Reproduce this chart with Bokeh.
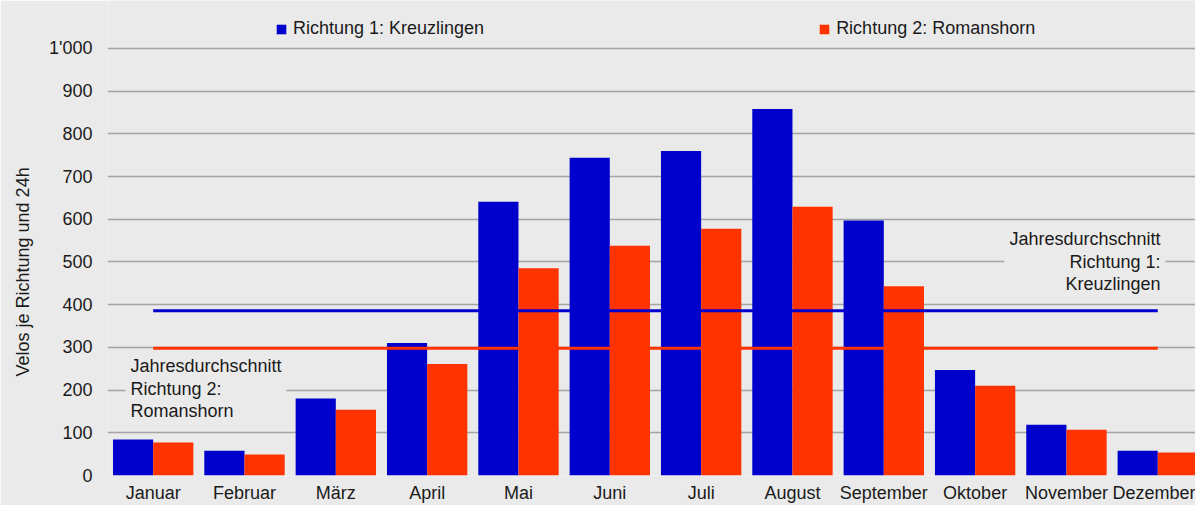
import numpy as np
from bokeh.plotting import figure
from bokeh.models import (ColumnDataSource, Legend, LegendItem, Label,
                          FixedTicker, Range1d, Title)
from bokeh.transform import dodge
from bokeh.embed import file_html
from bokeh.resources import INLINE

months = ["Januar", "Februar", "März", "April", "Mai", "Juni", "Juli",
          "August", "September", "Oktober", "November", "Dezember"]
richtung1 = [84, 58, 180, 310, 641, 744, 760, 858, 597, 247, 119, 58]
richtung2 = [77, 49, 154, 261, 485, 538, 578, 629, 443, 210, 107, 54]
avg_richtung1 = 386
avg_richtung2 = 298
series_names = ["Richtung 1: Kreuzlingen", "Richtung 2: Romanshorn"]
y_ticks = [0, 100, 200, 300, 400, 500, 600, 700, 800, 900, 1000]

BLUE = "#0000CC"
RED = "#FF3300"
BG = "#EAEAEA"
FONT = "Liberation Sans"
TXT = "#1a1a1a"

W, H = 1195, 505
LEFT, BOTTOM = 107, 29
FRAME_H = H - BOTTOM                  # frame spans whole top
PY = 0.428                            # px per unit (y)
XSTART, XEND = -0.5, 11.413
PX = (W - LEFT) / (XEND - XSTART)

x = np.arange(len(months))
source = ColumnDataSource(dict(x=x, r1=richtung1, r2=richtung2))

p = figure(width=W, height=H, output_backend="svg", toolbar_location=None,
           x_range=Range1d(XSTART, XEND), y_range=Range1d(0, FRAME_H / PY),
           min_border_left=LEFT, min_border_right=0, min_border_top=0,
           min_border_bottom=BOTTOM)
p.background_fill_color = BG
p.border_fill_color = BG
p.outline_line_color = None

bw = 0.44
b1 = p.vbar(x=dodge("x", -bw / 2, range=p.x_range), top="r1", width=bw,
            source=source, fill_color=BLUE, line_color=None)
b2 = p.vbar(x=dodge("x", bw / 2, range=p.x_range), top="r2", width=bw,
            source=source, fill_color=RED, line_color=None)

# annotations (background boxes hide gridlines)
lab1 = Label(x=XSTART + (1165 - LEFT) / PX, y=589,
             text="Jahresdurchschnitt\nRichtung 1:\nKreuzlingen",
             text_align="right", text_baseline="top", text_font=FONT,
             text_font_size="18px", text_color=TXT, text_line_height=1.13,
             background_fill_color=BG, padding=5)
lab2 = Label(x=XSTART + (125 - LEFT) / PX, y=291,
             text="Jahresdurchschnitt\nRichtung 2:\nRomanshorn",
             text_align="left", text_baseline="top", text_font=FONT,
             text_font_size="18px", text_color=TXT, text_line_height=1.13,
             background_fill_color=BG, padding=5)
p.add_layout(lab1)
p.add_layout(lab2)

p.line(x=[x[0], x[-1]], y=[avg_richtung1, avg_richtung1], line_color=BLUE, line_width=3)
p.line(x=[x[0], x[-1]], y=[avg_richtung2, avg_richtung2], line_color=RED, line_width=3)

# axes
p.xaxis.ticker = FixedTicker(ticks=list(x))
p.xaxis.major_label_overrides = {int(i): m for i, m in zip(x, months)}
p.yaxis.ticker = FixedTicker(ticks=y_ticks)
p.yaxis.major_label_overrides = {1000: "1'000"}
for ax in (p.xaxis[0], p.yaxis[0]):
    ax.axis_line_color = None
    ax.major_tick_line_color = None
    ax.minor_tick_line_color = None
    ax.major_tick_out = 0
    ax.major_tick_in = 0
    ax.major_label_text_font = FONT
    ax.major_label_text_font_size = "18px"
    ax.major_label_text_color = TXT
p.xaxis.major_label_standoff = 7
p.yaxis.major_label_standoff = 15

# y-axis title as a left-side Title so it can be shifted along the axis
ytitle = Title(text="Velos je Richtung und 24h", align="left", offset=99,
               vertical_align="top", text_font=FONT, text_font_size="18px",
               text_font_style="normal", text_color=TXT, standoff=24)
p.add_layout(ytitle, "left")

p.xgrid.grid_line_color = None
p.ygrid.grid_line_color = "#A4A4A4"
p.ygrid.grid_line_width = 1.5

# legend at top of the frame, above the 1'000 gridline
legend = Legend(items=[LegendItem(label=series_names[0], renderers=[b1]),
                       LegendItem(label=series_names[1], renderers=[b2])],
                location=(275 - LEFT, FRAME_H - 40),
                orientation="horizontal", padding=0, margin=0, spacing=334,
                glyph_width=12, glyph_height=12, label_standoff=6,
                label_text_font=FONT, label_text_font_size="18px",
                label_text_color=TXT, border_line_color=None,
                background_fill_alpha=0, label_height=18)
p.add_layout(legend)

open("out.html", "w").write(file_html(p, INLINE))
